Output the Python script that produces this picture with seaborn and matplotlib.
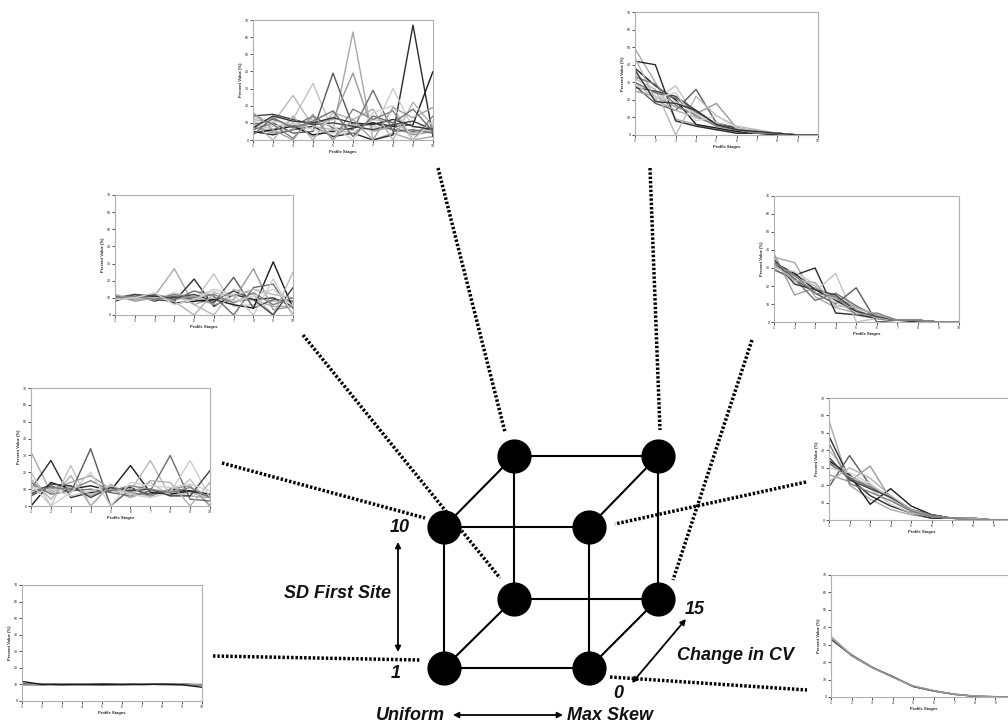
import matplotlib
matplotlib.use("Agg")
import matplotlib.pyplot as plt
import pandas as pd
import seaborn as sns

sns.set_theme(style="white")
plt.rcParams["font.family"] = ["Liberation Sans", "DejaVu Sans"]

# ---- data ----
stages = list(range(1, 11))
y_ticks = [0, 10, 20, 30, 40, 50, 60, 70]

# top centre: uniform, high SD first site, high CV
uni_sd10_cv15 = [
    [8, 5, 10, 2, 6, 63, 0, 4, 0, 2],
    [5, 3, 6, 8, 2, 4, 0, 3, 67, 2],
    [10, 6, 12, 33, 5, 10, 8, 6, 4, 6],
    [6, 10, 4, 5, 39, 8, 10, 6, 5, 7],
    [8, 4, 6, 10, 12, 39, 5, 8, 3, 5],
    [4, 6, 8, 3, 5, 7, 10, 8, 9, 40],
    [12, 10, 26, 8, 6, 4, 12, 10, 4, 8],
    [9, 12, 8, 14, 7, 6, 29, 5, 6, 4],
    [11, 8, 10, 6, 4, 9, 5, 30, 7, 10],
    [14, 15, 12, 9, 10, 8, 6, 9, 11, 6],
    [10, 0, 14, 0, 16, 12, 18, 0, 22, 8],
    [15, 9, 1, 14, 0, 18, 12, 17, 0, 14],
    [13, 11, 9, 12, 8, 0, 16, 20, 0, 11],
    [7, 14, 11, 10, 13, 10, 9, 12, 8, 6],
    [16, 6, 0, 15, 0, 12, 0, 19, 13, 19],
    [3, 13, 7, 11, 17, 2, 14, 10, 18, 5],
]

# top right: max skew, high SD first site, high CV
skew_sd10_cv15 = [
    [49, 30, 9, 6, 3, 2, 1, 0, 0, 0],
    [42, 40, 8, 5, 3, 1, 1, 0, 0, 0],
    [30, 20, 28, 10, 6, 3, 2, 1, 0, 0],
    [28, 18, 14, 26, 7, 4, 2, 1, 0, 0],
    [25, 22, 16, 12, 18, 4, 2, 1, 0, 0],
    [38, 28, 20, 6, 4, 2, 1, 1, 0, 0],
    [32, 26, 0, 22, 11, 5, 3, 1, 0, 0],
    [30, 24, 21, 13, 6, 3, 2, 1, 0, 0],
    [35, 22, 19, 12, 7, 3, 1, 1, 0, 0],
    [27, 25, 22, 14, 6, 4, 1, 1, 0, 0],
    [44, 20, 14, 10, 6, 3, 2, 1, 0, 0],
    [33, 29, 17, 11, 5, 3, 1, 1, 0, 0],
    [29, 21, 24, 8, 11, 4, 2, 1, 0, 0],
    [37, 19, 18, 14, 6, 3, 2, 1, 0, 0],
]

# left middle: uniform, low SD first site, high CV
uni_sd1_cv15 = [
    [10, 9, 11, 27, 6, 10, 8, 9, 5, 5],
    [11, 10, 9, 8, 21, 5, 12, 9, 10, 5],
    [9, 11, 12, 10, 8, 24, 5, 6, 8, 7],
    [10, 12, 8, 11, 9, 7, 22, 4, 9, 8],
    [12, 8, 10, 9, 11, 6, 9, 27, 3, 5],
    [10, 10, 11, 7, 8, 9, 6, 4, 31, 4],
    [9, 11, 10, 12, 6, 0, 15, 12, 0, 25],
    [11, 9, 12, 9, 14, 11, 0, 16, 18, 0],
    [10, 10, 9, 13, 10, 15, 12, 0, 21, 0],
    [8, 12, 11, 10, 12, 8, 14, 9, 0, 16],
    [12, 9, 10, 8, 0, 13, 11, 15, 12, 10],
    [10, 11, 9, 12, 10, 12, 7, 13, 6, 10],
    [9, 10, 13, 6, 9, 14, 8, 11, 15, 5],
]

# right middle: max skew, low SD first site, high CV
skew_sd1_cv15 = [
    [36, 33, 14, 8, 5, 2, 1, 1, 0, 0],
    [32, 26, 30, 5, 4, 2, 1, 0, 0, 0],
    [30, 22, 17, 27, 0, 2, 1, 1, 0, 0],
    [29, 24, 16, 10, 19, 0, 1, 1, 0, 0],
    [38, 15, 19, 14, 8, 4, 1, 1, 0, 0],
    [33, 27, 18, 12, 6, 2, 1, 1, 0, 0],
    [31, 25, 20, 13, 7, 2, 1, 1, 0, 0],
    [34, 24, 12, 16, 9, 3, 1, 1, 0, 0],
    [30, 28, 21, 11, 5, 3, 1, 1, 0, 0],
    [35, 21, 18, 15, 6, 3, 1, 1, 0, 0],
    [32, 23, 22, 9, 8, 4, 1, 1, 0, 0],
    [33, 26, 16, 14, 4, 5, 1, 1, 0, 0],
]

# left lower: uniform, high SD first site, no CV change
uni_sd10_cv0 = [
    [32, 8, 12, 6, 10, 5, 9, 7, 6, 5],
    [10, 27, 5, 8, 9, 11, 6, 10, 9, 5],
    [20, 0, 24, 0, 12, 8, 14, 6, 16, 0],
    [6, 12, 8, 34, 0, 10, 7, 9, 8, 6],
    [12, 10, 14, 18, 10, 8, 6, 10, 12, 0],
    [0, 14, 10, 12, 9, 24, 8, 7, 9, 7],
    [8, 9, 11, 7, 10, 9, 27, 6, 8, 5],
    [14, 7, 9, 10, 8, 6, 9, 30, 4, 3],
    [11, 10, 6, 9, 12, 7, 5, 8, 27, 5],
    [7, 13, 12, 5, 11, 9, 10, 6, 6, 21],
    [16, 4, 18, 0, 13, 6, 15, 14, 0, 14],
    [9, 11, 10, 15, 9, 12, 10, 8, 11, 5],
    [13, 0, 8, 20, 0, 14, 12, 11, 13, 9],
]

# right lower: max skew, high SD first site, no CV change
skew_sd10_cv0 = [
    [57, 20, 12, 6, 3, 1, 1, 0, 0, 0],
    [48, 24, 14, 8, 4, 1, 1, 0, 0, 0],
    [40, 26, 18, 9, 4, 2, 1, 0, 0, 0],
    [19, 37, 20, 13, 6, 3, 1, 1, 0, 0],
    [26, 22, 31, 12, 5, 2, 1, 1, 0, 0],
    [34, 26, 9, 18, 8, 3, 1, 1, 0, 0],
    [32, 25, 20, 13, 6, 2, 1, 1, 0, 0],
    [33, 24, 19, 13, 6, 3, 1, 1, 0, 0],
    [30, 27, 21, 12, 6, 2, 1, 1, 0, 0],
    [36, 23, 18, 13, 6, 2, 1, 1, 0, 0],
    [22, 30, 24, 14, 6, 2, 1, 1, 0, 0],
    [44, 21, 16, 11, 5, 2, 1, 0, 0, 0],
]

# bottom left: uniform, low SD first site, no CV change
uni_sd1_cv0 = [
    [10.5, 10.0, 10.2, 9.8, 9.9, 10.0, 10.4, 10.3, 10.0, 9.9],
    [10.0, 9.8, 10.4, 10.0, 9.6, 9.9, 10.2, 10.1, 10.3, 9.7],
    [9.8, 10.2, 9.6, 10.3, 10.2, 10.1, 9.8, 10.0, 9.7, 10.3],
    [10.2, 10.1, 9.8, 9.9, 10.3, 10.0, 10.5, 9.8, 9.9, 9.5],
    [9.6, 9.9, 10.5, 10.1, 9.8, 9.7, 10.3, 10.2, 10.4, 9.5],
    [11.8, 10.0, 9.9, 10.0, 10.1, 10.0, 9.9, 10.2, 9.8, 8.3],
]

# bottom right: max skew, low SD first site, no CV change
skew_sd1_cv0 = [
    [34.5, 24.2, 17.1, 11.5, 6.2, 3.6, 1.6, 0.5, 0.2, 0.1],
    [33.5, 23.8, 16.9, 11.8, 6.0, 3.4, 1.5, 0.4, 0.1, 0.0],
    [34.0, 24.5, 17.4, 11.2, 6.4, 3.5, 1.7, 0.5, 0.1, 0.1],
    [33.0, 24.0, 17.0, 11.6, 6.1, 3.5, 1.6, 0.4, 0.2, 0.0],
    [34.8, 23.6, 16.8, 11.4, 6.3, 3.7, 1.5, 0.6, 0.1, 0.0],
]

line_grays = ["#a8a8a8", "#2a2a2a", "#c2c2c2", "#5a5a5a", "#9a9a9a", "#1a1a1a",
              "#b8b8b8", "#6e6e6e", "#cccccc", "#404040", "#b0b0b0", "#808080",
              "#d0d0d0", "#333333", "#a0a0a0", "#707070"]

# ---- diagram (pixel space) ----
W, H = 1008, 725
cube_nodes = {
    "f_tl": (444, 527), "f_tr": (589, 527), "f_bl": (444, 668), "f_br": (589, 668),
    "b_tl": (514, 456), "b_tr": (658, 456), "b_bl": (514, 599), "b_br": (658, 599),
}
cube_edges = [("f_tl", "f_tr"), ("f_tr", "f_br"), ("f_br", "f_bl"), ("f_bl", "f_tl"),
              ("b_tl", "b_tr"), ("b_tr", "b_br"), ("b_br", "b_bl"), ("b_bl", "b_tl"),
              ("f_tl", "b_tl"), ("f_tr", "b_tr"), ("f_bl", "b_bl"), ("f_br", "b_br")]

# (panel data, inset box left/top/right/bottom, leader line start, leader line end)
panels = [
    (uni_sd10_cv15, (253, 20, 433, 140), (438, 168), (505, 432)),
    (skew_sd10_cv15, (635, 12, 818, 135), (650, 168), (660, 430)),
    (uni_sd1_cv15, (115, 195, 293, 315), (303, 335), (500, 578)),
    (skew_sd1_cv15, (774, 196, 959, 322), (752, 340), (673, 580)),
    (uni_sd10_cv0, (31, 388, 210, 506), (222, 463), (425, 518)),
    (skew_sd10_cv0, (829, 398, 1014, 520), (806, 482), (615, 524)),
    (uni_sd1_cv0, (22, 585, 202, 701), (213, 656), (420, 660)),
    (skew_sd1_cv0, (831, 575, 1016, 697), (610, 677), (807, 690)),
]

fig = plt.figure(figsize=(W / 100, H / 100), dpi=100)
fig.patch.set_facecolor("white")
ax = fig.add_axes([0, 0, 1, 1])
ax.set_xlim(0, W)
ax.set_ylim(H, 0)
ax.axis("off")

# leader lines
for rows, box, p0, p1 in panels:
    ax.plot([p0[0], p1[0]], [p0[1], p1[1]], color="black", lw=2.5,
            linestyle=(0, (0.7, 0.55)), dash_capstyle="butt", zorder=1)

# cube
for a, b in cube_edges:
    ax.plot([cube_nodes[a][0], cube_nodes[b][0]], [cube_nodes[a][1], cube_nodes[b][1]],
            color="black", lw=1.5, zorder=2)
nx = [p[0] for p in cube_nodes.values()]
ny = [p[1] for p in cube_nodes.values()]
sns.scatterplot(x=nx, y=ny, s=520, color="black", edgecolor="black", ax=ax, zorder=3)
ax.set_xlim(0, W)
ax.set_ylim(H, 0)

arrow = dict(arrowstyle="<|-|>", lw=1.3, color="black", mutation_scale=8, shrinkA=0, shrinkB=0)
ax.annotate("", xy=(398, 542), xytext=(398, 652), arrowprops=arrow)
ax.annotate("", xy=(453, 715), xytext=(563, 715), arrowprops=arrow)
ax.annotate("", xy=(632, 683), xytext=(686, 619), arrowprops=arrow)

txt = dict(fontsize=13, fontweight="bold", fontstyle="italic", color="#111111", va="center")
ax.text(410, 527, "10", ha="right", **txt)
ax.text(401, 674, "1", ha="right", **txt)
ax.text(337, 594, "SD First Site", ha="center", **txt)
ax.text(445, 716, "Uniform", ha="right", **txt)
ax.text(567, 716, "Max Skew", ha="left", **txt)
ax.text(685, 610, "15", ha="left", **txt)
ax.text(618, 694, "0", ha="center", **txt)
ax.text(677, 655, "Change in CV", ha="left", **txt)

# small profile plots
for rows, box, p0, p1 in panels:
    l, t, r, b = box
    iax = fig.add_axes([l / W, 1 - b / H, (r - l) / W, (b - t) / H])
    df = pd.DataFrame(rows, columns=stages)
    df["line"] = range(len(rows))
    long = df.melt(id_vars="line", var_name="stage", value_name="value")
    sns.lineplot(data=long, x="stage", y="value", hue="line",
                 palette=line_grays[:len(rows)], estimator=None, lw=1.0,
                 legend=False, ax=iax)
    iax.set_xlim(1, 10)
    iax.set_ylim(0, 70)
    iax.set_xticks(stages)
    # panels running off the right edge lose their last label, as in the original
    iax.set_xticklabels([str(s) if (r < W or s < 10) else "" for s in stages])
    iax.set_yticks(y_ticks)
    iax.tick_params(axis="both", bottom=True, left=True, length=2, width=0.6,
                    color="#333333", labelsize=2.5, pad=1, labelcolor="#222222")
    for sp in iax.spines.values():
        sp.set_color("#b0b0b0")
        sp.set_linewidth(0.8)
    iax.set_xlabel("Profile Stages", fontsize=3, fontweight="bold", labelpad=1.5)
    iax.set_ylabel("Percent Value (%)", fontsize=3, fontweight="bold", labelpad=1.5)
    iax.set_facecolor("white")

fig.savefig("out.png", dpi=100, facecolor="white")
